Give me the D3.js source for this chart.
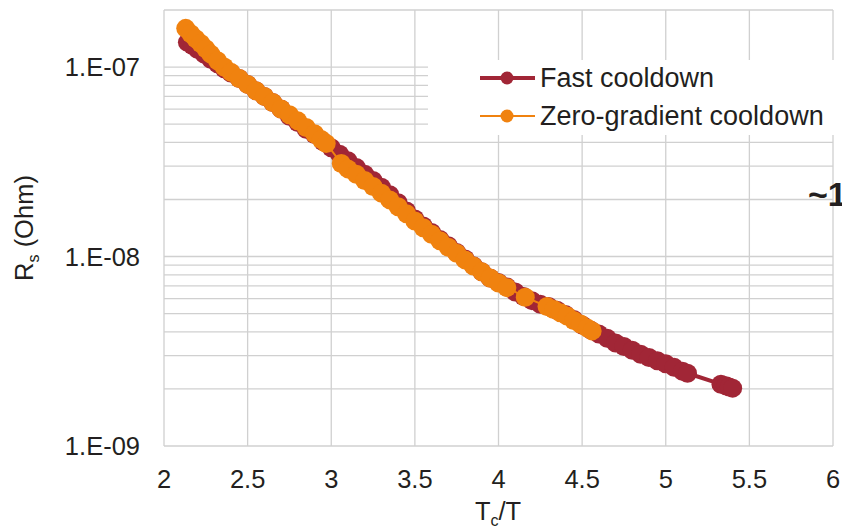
<!DOCTYPE html>
<meta charset="utf-8">
<head>
<style>
body{margin:0;background:#fff;}
text{font-family:"Liberation Sans",Arial,sans-serif;fill:#231f20;}
.grid line{stroke:#d0d0d0;stroke-width:1.3px;}
</style>
</head>
<body>
<script src="https://d3js.org/d3.v7.min.js"></script>
<script>

// Fast cooldown (Tc/T, Rs in Ohm)
var fastX=[2.14,2.17,2.20,2.24,2.28,2.32,2.36,2.40,2.45,2.50,2.55,2.60,2.65,2.70,2.75,2.80,2.85,2.90,2.95,3.00,
	3.05,3.10,3.15,3.20,3.25,3.30,3.35,3.40,3.45,3.50,3.55,3.60,3.65,3.70,3.75,3.80,3.85,3.90,3.95,4.00,
	4.05,4.10,4.15,4.20,4.25,4.30,4.35,4.40,4.45,4.50,4.55,4.60,4.65,4.70,4.75,4.80,4.85,4.90,4.95,5.00,
	5.05,5.10,5.13,5.33,5.36,5.38,5.40];
var fastY=[1.35e-7,1.30e-7,1.24e-7,1.17e-7,1.10e-7,1.04e-7,9.8e-8,9.3e-8,8.7e-8,8.1e-8,7.5e-8,7.0e-8,6.5e-8,6.0e-8,5.5e-8,5.1e-8,4.7e-8,4.4e-8,4.05e-8,3.75e-8,
	3.47e-8,3.2e-8,2.95e-8,2.72e-8,2.52e-8,2.32e-8,2.12e-8,1.92e-8,1.74e-8,1.58e-8,1.45e-8,1.34e-8,1.23e-8,1.14e-8,1.05e-8,9.7e-9,8.95e-9,8.3e-9,7.7e-9,7.3e-9,
	6.9e-9,6.5e-9,6.15e-9,5.85e-9,5.6e-9,5.45e-9,5.2e-9,4.95e-9,4.65e-9,4.35e-9,4.1e-9,3.9e-9,3.7e-9,3.5e-9,3.35e-9,3.2e-9,3.05e-9,2.93e-9,2.82e-9,2.72e-9,
	2.6e-9,2.48e-9,2.42e-9,2.12e-9,2.08e-9,2.05e-9,2.02e-9];

// Zero-gradient cooldown
var zeroX=[2.13,2.16,2.19,2.22,2.25,2.28,2.32,2.36,2.40,2.45,2.50,2.55,2.60,2.65,2.70,2.75,2.80,2.85,2.90,2.94,2.97,
	3.06,3.10,3.15,3.20,3.25,3.30,3.35,3.40,3.45,3.50,3.55,3.60,3.65,3.70,3.75,3.80,3.85,3.90,3.95,4.00,4.05,
	4.16,4.29,4.33,4.37,4.41,4.45,4.49,4.53,4.56];
var zeroY=[1.60e-7,1.50e-7,1.41e-7,1.33e-7,1.25e-7,1.17e-7,1.08e-7,1.0e-7,9.4e-8,8.7e-8,8.1e-8,7.5e-8,7.0e-8,6.5e-8,6.0e-8,5.6e-8,5.2e-8,4.8e-8,4.45e-8,4.15e-8,3.95e-8,
	3.1e-8,2.9e-8,2.72e-8,2.52e-8,2.34e-8,2.16e-8,1.99e-8,1.83e-8,1.68e-8,1.54e-8,1.42e-8,1.31e-8,1.21e-8,1.12e-8,1.04e-8,9.6e-9,8.9e-9,8.3e-9,7.7e-9,7.25e-9,6.85e-9,
	6.1e-9,5.45e-9,5.25e-9,5.05e-9,4.85e-9,4.6e-9,4.4e-9,4.2e-9,4.05e-9];

var xTicks=[2,2.5,3,3.5,4,4.5,5,5.5,6];
var yTicks=[1e-9,1e-8,1e-7];
var yMinor=[2e-9,3e-9,4e-9,5e-9,6e-9,7e-9,8e-9,9e-9,2e-8,3e-8,4e-8,5e-8,6e-8,7e-8,8e-8,9e-8,2e-7];
var seriesNames=["Fast cooldown","Zero-gradient cooldown"];
var colors=["#a12636","#f0820f"];

var svg=d3.select("body").append("svg").attr("width",842).attr("height",528);

var x=d3.scaleLinear().domain([2,6]).range([164,833]);
var y=d3.scaleLog().domain([1e-9,2e-7]).range([446,10]);

var grid=svg.append("g").attr("class","grid");
grid.selectAll(".v").data(xTicks).enter().append("line")
	.attr("x1",d=>x(d)).attr("x2",d=>x(d)).attr("y1",y(2e-7)).attr("y2",y(1e-9));
grid.selectAll(".h").data(yTicks.concat(yMinor)).enter().append("line")
	.attr("x1",x(2)).attr("x2",x(6)).attr("y1",d=>y(d)).attr("y2",d=>y(d));

svg.selectAll(".xt").data(xTicks).enter().append("text")
	.attr("x",d=>x(d)).attr("y",488).style("text-anchor","middle").style("font-size","25.5px")
	.text(d=>d);
svg.selectAll(".yt").data(yTicks).enter().append("text")
	.attr("x",140).attr("y",d=>y(d)+9).style("text-anchor","end").style("font-size","25.5px")
	.text(d=>"1.E-0"+Math.round(-Math.log10(d)));

var xt=svg.append("text").attr("x",498).attr("y",520).style("text-anchor","middle").style("font-size","25.5px");
xt.append("tspan").text("T");
xt.append("tspan").attr("dy",6).style("font-size","16px").text("c");
xt.append("tspan").attr("dy",-6).text("/T");

var yt=svg.append("text").attr("transform","translate(33,228) rotate(-90)").style("text-anchor","middle").style("font-size","25.5px");
yt.append("tspan").text("R");
yt.append("tspan").attr("dy",6).style("font-size","16px").text("s");
yt.append("tspan").attr("dy",-6).text(" (Ohm)");

var series=[d3.zip(fastX,fastY),d3.zip(zeroX,zeroY)];
var line=d3.line().x(d=>x(d[0])).y(d=>y(d[1]));
[0,1].forEach(function(i){
	svg.append("path").datum(series[i]).attr("d",line)
		.attr("fill","none").attr("stroke",colors[i]).attr("stroke-width",i==0?4:2);
	svg.append("g").selectAll("circle").data(series[i]).enter().append("circle")
		.attr("cx",d=>x(d[0])).attr("cy",d=>y(d[1])).attr("r",9.5).attr("fill",colors[i]);
});

// legend
var lg=svg.append("g");
lg.append("rect").attr("x",428).attr("y",60).attr("width",414).attr("height",75).attr("fill","#fff");
[0,1].forEach(function(i){
	var ly=[78,116][i];
	lg.append("line").attr("x1",480).attr("x2",535).attr("y1",ly).attr("y2",ly)
		.attr("stroke",colors[i]).attr("stroke-width",i==0?4:2);
	lg.append("circle").attr("cx",507).attr("cy",ly).attr("r",6.5).attr("fill",colors[i]);
	lg.append("text").attr("x",540).attr("y",ly+9).style("font-size","27px").text(seriesNames[i]);
});

svg.append("text").attr("x",808).attr("y",206).style("font-size","34px").style("font-weight","bold").text("~1");
</script>
</body>
</html>
